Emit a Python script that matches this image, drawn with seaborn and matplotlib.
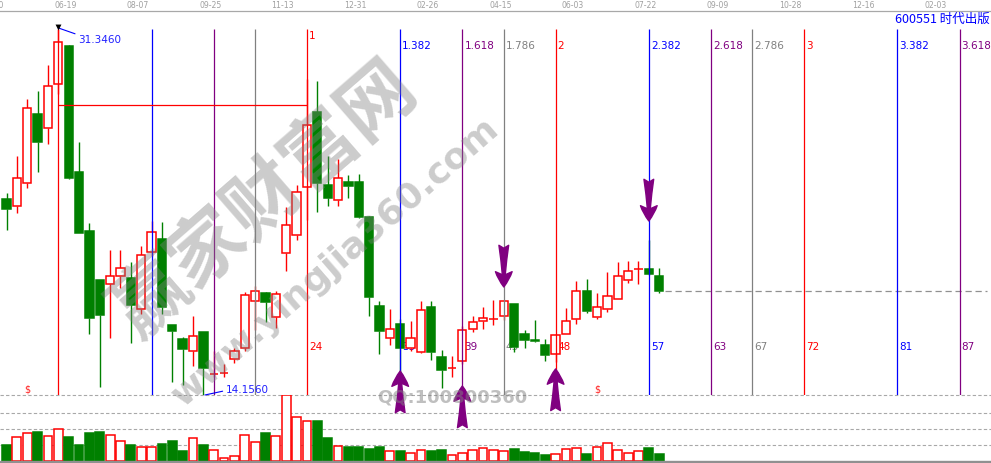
import matplotlib
matplotlib.use("Agg")
import numpy as np
import pandas as pd
import matplotlib.pyplot as plt
import seaborn as sns
from matplotlib.patches import Rectangle

sns.set_theme(style="white")
plt.rcParams["font.family"] = ["DejaVu Sans", "Noto Sans CJK SC"]

# ------------------------------------------------------
# Data (weekly bars, bar 0 = week of the 31.346 high)
# ------------------------------------------------------

bars = list(range(-5, 59))

opens = [23.36, 23.05, 24.13, 27.35, 26.71, 28.78, 30.55, 24.63, 21.86, 19.56,
         19.38, 19.76, 19.65, 18.21, 20.89, 21.48, 17.44, 16.79, 16.24, 17.10,
         15.14, 15.18, 15.83, 16.35, 18.57, 18.95, 17.81, 20.81, 21.66, 23.91,
         27.45, 24.02, 23.30, 24.16, 24.16, 22.52, 18.34, 16.82, 17.49, 16.36,
         16.19, 18.29, 15.93, 15.42, 15.77, 17.27, 17.65, 17.71, 17.88, 18.43,
         17.02, 16.72, 16.50, 16.07, 17.01, 17.71, 19.04, 17.81, 18.18, 18.66,
         19.54, 20.09, 20.06, 19.73]
closes = [22.89, 24.33, 27.62, 26.05, 28.66, 30.72, 24.36, 21.77, 17.79, 17.93,
          19.73, 20.11, 18.40, 20.73, 21.80, 18.30, 17.18, 16.32, 16.91, 15.41,
          15.14, 15.18, 16.21, 18.84, 19.03, 18.51, 18.89, 22.13, 23.68, 26.82,
          24.13, 23.39, 24.33, 23.96, 22.53, 18.77, 17.18, 17.24, 16.38, 16.82,
          18.13, 16.16, 15.34, 15.42, 17.20, 17.57, 17.76, 17.71, 18.56, 16.43,
          16.75, 16.71, 16.05, 16.96, 17.62, 19.03, 18.12, 18.28, 18.79, 19.73,
          19.97, 20.09, 19.85, 19.05]
highs = [23.64, 25.38, 28.04, 28.43, 29.66, 31.346, 30.58, 26.04, 22.22, 19.58,
         20.97, 20.97, 20.40, 21.15, 22.33, 22.28, 17.46, 16.88, 17.85, 17.12,
         16.21, 15.61, 16.36, 18.99, 19.26, 18.99, 19.04, 22.99, 24.03, 29.00,
         28.89, 25.38, 25.24, 24.49, 24.54, 22.54, 18.56, 18.20, 17.73, 17.63,
         18.56, 18.56, 16.27, 15.97, 17.41, 17.88, 18.28, 18.62, 18.63, 18.45,
         17.21, 17.68, 16.79, 17.04, 18.24, 19.51, 19.60, 18.95, 19.93, 20.42,
         20.45, 20.45, 21.44, 20.12]
lows = [21.91, 22.70, 23.88, 24.64, 25.96, 28.29, 24.30, 21.75, 17.04, 14.55,
        16.85, 19.20, 16.61, 17.97, 20.67, 17.97, 14.75, 14.63, 15.50, 14.156,
        15.02, 15.02, 15.65, 16.24, 17.22, 17.60, 17.29, 19.99, 21.42, 22.39,
        22.77, 23.05, 23.02, 23.41, 22.47, 17.88, 16.10, 16.52, 15.22, 16.24,
        16.13, 15.81, 14.49, 14.99, 15.61, 17.13, 17.26, 17.44, 17.68, 16.19,
        16.38, 16.63, 15.77, 15.70, 17.01, 17.51, 18.02, 17.71, 18.04, 18.66,
        19.43, 19.38, 19.79, 18.96]
volumes = [47, 73, 85, 86, 76, 97, 71, 47, 83, 86,
           79, 61, 47, 43, 43, 50, 59, 29, 70, 47,
           34, 10, 16, 79, 58, 83, 76, 197, 133, 121,
           119, 68, 46, 41, 41, 35, 41, 31, 29, 25,
           34, 29, 32, 19, 25, 34, 40, 34, 31, 35,
           26, 23, 17, 22, 37, 40, 20, 43, 55, 34,
           25, 31, 38, 20]

date_bars = [-7, 0, 7, 14, 21, 28, 35, 42, 49, 56, 63, 70, 77, 84]
date_labels = ["05-10", "06-19", "08-07", "09-25", "11-13", "12-31", "02-26",
               "04-15", "06-03", "07-22", "09-09", "10-28", "12-16", "02-03"]

fib_unit = 24
fib_ratios = [0, 0.382, 0.618, 0.786, 1, 1.382, 1.618, 1.786,
              2, 2.382, 2.618, 2.786, 3, 3.382, 3.618]
fib_colors = ["#ff0000", "#0000ff", "#800080", "#808080"] * 4

up_arrow_bars = [33, 39, 48]
up_arrow_tips = [15.28, 14.58, 15.38]
down_arrow_bars = [43, 57]
down_arrow_tips = [19.23, 22.33]

dividend_bars = [-3, 52]
level_price = 27.78
vol_grid = [47, 95, 143, 198]

title = "600551 时代出版"

# ------------------------------------------------------
# Figure
# ------------------------------------------------------

df = pd.DataFrame({"bar": bars, "open": opens, "close": closes,
                   "high": highs, "low": lows, "vol": volumes})
df["up"] = df["close"] >= df["open"]
df["top"] = df[["open", "close"]].max(axis=1)
df["bot"] = df[["open", "close"]].min(axis=1)

RED, GREEN = "#ff0000", "#008000"
W, H = 991, 464
XLIM = (-5.63, 90.03)
fig = plt.figure(figsize=(W / 100, H / 100), dpi=100)
fig.patch.set_facecolor("white")

axv = fig.add_axes([0, 2 / H, 1, 66 / H])
ax = fig.add_axes([0, 68 / H, 1, 384 / H])
ax.set_zorder(3)
ax.patch.set_visible(False)

hi = df["high"].max()
lo = df["low"].min()
px = (hi - lo) / 366.0
ihi = int(df.loc[df["high"].idxmax(), "bar"])
ilo = int(df.loc[df["low"].idxmin(), "bar"])

# candles
colors = np.where(df["up"], RED, GREEN)
faces = np.where(df["up"], "white", GREEN)
ax.bar(df["bar"], (df["top"] - df["bot"]), bottom=df["bot"], width=0.8,
       color=faces, edgecolor=colors, linewidth=1.1, zorder=2)
ax.vlines(df["bar"], df["low"], df["bot"], colors=colors, linewidth=1.0, zorder=1.9)
ax.vlines(df["bar"], df["top"], df["high"], colors=colors, linewidth=1.0, zorder=1.9)

# marker above the high
sns.scatterplot(x=[ihi], y=[hi + 0.1], marker="v", color="black", s=18,
                ax=ax, zorder=4, linewidth=0, legend=False)

# volume
axv.bar(df["bar"], df["vol"], width=0.85, color=faces, edgecolor=colors,
        linewidth=1.1, zorder=2)
for g in vol_grid:
    axv.axhline(g, color="#a8a8a8", linestyle=(0, (3, 2)), linewidth=0.8,
                clip_on=False, zorder=1)

for a in (ax, axv):
    for s in a.spines.values():
        s.set_visible(False)
    a.set_yticks([])
    a.set_xticks([])
    a.grid(False)
    a.set_xlabel("")
    a.set_ylabel("")
axv.set_facecolor("white")

# top date axis (line + labels drawn as text so the clipped first one shows)
ax.spines["top"].set_visible(True)
ax.spines["top"].set_color("#a8a8a8")
ax.spines["top"].set_linewidth(0.9)
xt = ax.get_xaxis_transform()
for b, lab in zip(date_bars, date_labels):
    ax.annotate(lab, xy=(b + 0.67, 1), xycoords=xt, xytext=(0, 2),
                textcoords="offset pixels", color="#a0a0a0", fontsize=5.6,
                ha="center", va="bottom", annotation_clip=False)

# fibonacci time zones
for r, c in zip(fib_ratios, fib_colors):
    n = int(round(fib_unit * r))
    xb = ihi + n
    ax.vlines(xb, lo, hi, colors=c, linewidth=0.9, zorder=3)
    if r >= 1:
        ytop = 0.937 if r == 1 else 0.9115
        ax.annotate(f"{r:g}", xy=(xb, ytop), xycoords=xt, xytext=(2, 0),
                    textcoords="offset pixels", color=c, fontsize=7.5,
                    ha="left", va="center", zorder=1.5)
        ax.annotate(f"{n}", xy=(xb, 0.1276), xycoords=xt, xytext=(2, 0),
                    textcoords="offset pixels", color=c, fontsize=7.5,
                    ha="left", va="center", zorder=1.5)

# level line from the high to the "1" zone
ax.hlines(level_price, ihi, ihi + fib_unit, colors=RED, linewidth=0.9, zorder=3)

# last close extended
last = df.iloc[-1]
ax.hlines(last["close"], last["bar"] + 0.6, XLIM[1] - 0.4, colors="#909090",
          linestyle=(0, (5, 3)), linewidth=0.9, zorder=1)

# high / low labels
ax.annotate(f"{hi:.4f}", xy=(ihi, hi + 0.05), xytext=(20, -11),
            textcoords="offset pixels", color="#2020ff", fontsize=7.5,
            ha="left", va="center",
            arrowprops=dict(arrowstyle="-", color="blue", lw=0.8,
                            shrinkA=0, shrinkB=0, relpos=(0, 0.9)))
ax.annotate(f"{lo:.4f}", xy=(ilo + 0.15, lo), xytext=(21, 6),
            textcoords="offset pixels", color="#2020ff", fontsize=7.5,
            ha="left", va="center", annotation_clip=False,
            arrowprops=dict(arrowstyle="-", color="blue", lw=0.8,
                            shrinkA=0, shrinkB=0, relpos=(0, 0.35)))

for b in dividend_bars:
    ax.text(b, lo + 0.05, "$", color="#ff2020", fontsize=7, ha="center",
            va="bottom", zorder=3)

# arrows
style = "fancy,head_length=0.55,head_width=0.6,tail_width=0.35"
for b, t in zip(up_arrow_bars, up_arrow_tips):
    ax.annotate("", xy=(b, t), xytext=(0, -30), textcoords="offset points",
                annotation_clip=False, zorder=6,
                arrowprops=dict(arrowstyle=style, color="#800080", shrinkA=0,
                                shrinkB=0, mutation_scale=20, clip_on=False))
for b, t in zip(down_arrow_bars, down_arrow_tips):
    ax.annotate("", xy=(b, t), xytext=(0, 30), textcoords="offset points",
                annotation_clip=False, zorder=6,
                arrowprops=dict(arrowstyle=style, color="#800080", shrinkA=0,
                                shrinkB=0, mutation_scale=20, clip_on=False))

# watermark
fig.text(0.267, 0.569, "赢家财富网", rotation=41, fontsize=54, fontweight="bold",
         color="#808080", alpha=0.4, ha="center", va="center",
         family=["Noto Sans CJK SC"], zorder=10)
fig.text(0.338, 0.435, "www.yingjia360.com", rotation=41, fontsize=26,
         fontweight="bold", color="#808080", alpha=0.4, ha="center",
         va="center", zorder=10)
fig.text(0.456, 0.144, "QQ:100800360", fontsize=13, fontweight="bold",
         color="#808080", alpha=0.5, ha="center", va="center", zorder=10)

# title
fig.text(0.999, 1 - 19.5 / H, title, ha="right", va="center", color="#0000ff",
         fontsize=9, family=["Noto Sans CJK SC", "DejaVu Sans"])

# bottom strip
fig.patches.append(Rectangle((0, 0), 1, 2 / H, transform=fig.transFigure,
                             color="#909090", zorder=0))

# limits last, so nothing above can move them
ax.set_ylim(lo, lo + 384 * px)
axv.set_ylim(0, 198)
ax.set_xlim(*XLIM)
axv.set_xlim(*XLIM)

fig.savefig("out.png", dpi=100, facecolor="white")
